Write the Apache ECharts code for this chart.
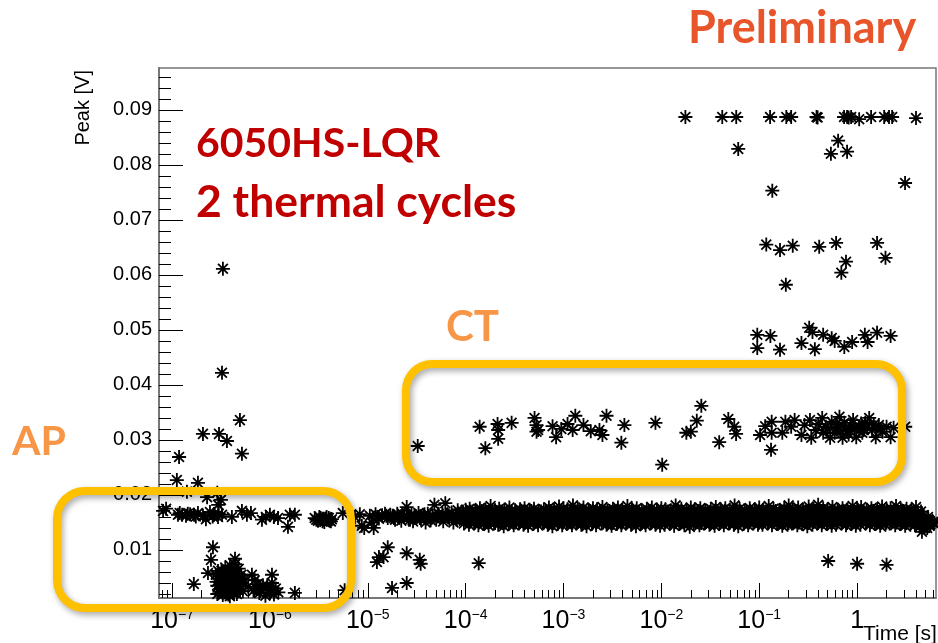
<!DOCTYPE html>
<html><head><meta charset="utf-8">
<script src="https://cdn.jsdelivr.net/npm/echarts@6/dist/echarts.min.js"></script>
<style>html,body{margin:0;padding:0;background:#fff}#c{width:938px;height:643px}</style>
</head><body><div id="c"></div>
<script>
// ---------- axis ranges & ticks ----------
const X_MIN = 7.36e-8, X_MAX = 6.4;
const Y_MIN = 0.00127, Y_MAX = 0.0976;
const xMajorTicks = [1e-7,1e-6,1e-5,1e-4,1e-3,1e-2,1e-1,1];
const xMinorTicks = [8e-8,9e-8,
 2e-7,3e-7,4e-7,5e-7,6e-7,7e-7,8e-7,9e-7,
 2e-6,3e-6,4e-6,5e-6,6e-6,7e-6,8e-6,9e-6,
 2e-5,3e-5,4e-5,5e-5,6e-5,7e-5,8e-5,9e-5,
 2e-4,3e-4,4e-4,5e-4,6e-4,7e-4,8e-4,9e-4,
 2e-3,3e-3,4e-3,5e-3,6e-3,7e-3,8e-3,9e-3,
 2e-2,3e-2,4e-2,5e-2,6e-2,7e-2,8e-2,9e-2,
 0.2,0.3,0.4,0.5,0.6,0.7,0.8,0.9,
 2,3,4,5,6];
const yMajorTicks = [0.01,0.02,0.03,0.04,0.05,0.06,0.07,0.08,0.09];
const yMinorTicks = [0.002,0.004,0.006,0.008,0.012,0.014,0.016,0.018,0.022,0.024,0.026,0.028,
 0.032,0.034,0.036,0.038,0.042,0.044,0.046,0.048,0.052,0.054,0.056,0.058,0.062,0.064,0.066,0.068,
 0.072,0.074,0.076,0.078,0.082,0.084,0.086,0.088,0.092,0.094,0.096];

// ---------- data: [time (s), peak (V)] ----------
const apUpper = [[1.18e-7,0.0269],[1.12e-7,0.0227],[1.84e-7,0.0222],[1.42e-7,0.0206],[2.28e-7,0.0196],[2.9e-7,0.0204],
 [3.16e-7,0.0191],[2.96e-7,0.0182],[2.07e-7,0.0311],[3.02e-7,0.0311],[3.64e-7,0.0298],[4.94e-7,0.0336],
 [3.31e-7,0.0611],[3.24e-7,0.0422],[5.18e-7,0.0275]];
const leftBand = [[8.1e-8,0.0171],[8.7e-8,0.0175],[1.15e-7,0.0164],[1.27e-7,0.0164],[1.39e-7,0.0162],[1.53e-7,0.0165],
 [1.68e-7,0.0164],[1.84e-7,0.0167],[2.07e-7,0.0162],[2.22e-7,0.0156],[2.44e-7,0.0169],[2.68e-7,0.0165],[2.95e-7,0.0160],
 [3.24e-7,0.0164],[4.09e-7,0.0160],[5.18e-7,0.0171],[5.82e-7,0.0164],[6.4e-7,0.0167],[8.3e-7,0.0155],[9.1e-7,0.0160],
 [1.0e-6,0.0164],[1.1e-6,0.0160],[1.21e-6,0.0158],[1.53e-6,0.0142],[1.6e-6,0.0164],[1.8e-6,0.0164],
 [2.87e-6,0.0158],[3.1e-6,0.0153],[3.3e-6,0.0158],[3.55e-6,0.0155],[3.8e-6,0.0160],[4.1e-6,0.0153],[4.3e-6,0.0156],
 [3.6e-6,0.0151],[5.56e-6,0.0167],[7.4e-6,0.0160],[8.7e-6,0.0144],[8.3e-6,0.0165],
 [1.2e-7,0.0167],[1.45e-7,0.0166],[1.75e-7,0.0161],[2.6e-7,0.0161],[3.0e-7,0.0166],[2.98e-6,0.0155],[3.2e-6,0.0160],
 [3.45e-6,0.0152],[3.7e-6,0.0157],[4.0e-6,0.0158],[4.2e-6,0.0152]];
const apLow = [[2.62e-7,0.0105],[2.5e-7,0.0082],[2.33e-7,0.0058],[1.67e-7,0.0038],[4.4e-7,0.0084],
 [2.8e-7,0.0055],[2.9e-7,0.0035],[2.9e-7,0.0020],[3.0e-7,0.0048],[3.1e-7,0.0028],[3.2e-7,0.0062],[3.2e-7,0.0040],
 [3.3e-7,0.0018],[3.4e-7,0.0052],[3.4e-7,0.0030],[3.5e-7,0.0068],[3.6e-7,0.0044],[3.6e-7,0.0022],[3.7e-7,0.0058],
 [3.8e-7,0.0034],[3.9e-7,0.0072],[3.9e-7,0.0016],[4.0e-7,0.0050],[4.1e-7,0.0026],[4.2e-7,0.0064],[4.2e-7,0.0040],
 [4.4e-7,0.0074],[4.4e-7,0.0031],[4.5e-7,0.0054],[4.6e-7,0.0020],[4.7e-7,0.0045],[4.8e-7,0.0066],[5.0e-7,0.0036],
 [5.1e-7,0.0055],[5.3e-7,0.0025],[5.5e-7,0.0046],[6.55e-7,0.0055],[7.0e-7,0.0045],[1.05e-6,0.0055],
 [7.2e-7,0.0030],[7.8e-7,0.0022],[8.5e-7,0.0036],[9.0e-7,0.0017],[9.8e-7,0.0027],[1.05e-6,0.0040],[1.1e-6,0.0019],
 [1.15e-6,0.0030],[1.22e-6,0.0023],[1.8e-6,0.0022],[5.8e-6,0.0027],
 [2.85e-7,0.0042],[2.95e-7,0.0062],[3.05e-7,0.0024],[3.15e-7,0.0052],[3.25e-7,0.0033],[3.35e-7,0.0060],[3.45e-7,0.0041],
 [3.55e-7,0.0026],[3.65e-7,0.0050],[3.75e-7,0.0019],[3.85e-7,0.0063],[3.95e-7,0.0042],[4.05e-7,0.0032],[4.15e-7,0.0058],
 [4.3e-7,0.0022],[4.4e-7,0.0048],[4.55e-7,0.0036],[4.75e-7,0.0028],[4.9e-7,0.0052],[5.2e-7,0.0040],[6.0e-7,0.0033],
 [6.8e-7,0.0026],[7.5e-7,0.0038],[8.2e-7,0.0028],[9.4e-7,0.0035],[1.0e-6,0.0022]];
const midLow = [[1.24e-5,0.0078],[1.3e-5,0.0087],[1.45e-5,0.0087],[1.6e-5,0.0105],[2.5e-5,0.0094],[3.4e-5,0.0082],
 [3.47e-5,0.0075],[1.77e-5,0.0031],[2.5e-5,0.0040],[1.36e-4,0.0076]];
const midBand = [[9.2e-6,0.0140],[1.05e-5,0.0162],[1.1e-5,0.0150],[1.15e-5,0.0140],[1.2e-5,0.0165],[1.3e-5,0.0157],[1.4e-5,0.0163],
 [1.5e-5,0.0166],[1.6e-5,0.0158],[1.7e-5,0.0164],[1.8e-5,0.0161],[1.9e-5,0.0155],[2.0e-5,0.0166],[2.1e-5,0.0160],
 [2.2e-5,0.0153],[2.35e-5,0.0163],[2.5e-5,0.0178],[2.6e-5,0.0158],[2.8e-5,0.0165],[2.9e-5,0.0152],[3.1e-5,0.0161],
 [3.3e-5,0.0167],[3.5e-5,0.0156],[3.7e-5,0.0162],[3.9e-5,0.0150],[4.1e-5,0.0166],[4.3e-5,0.0159],[4.6e-5,0.0163],
 [4.8e-5,0.0182],[5.0e-5,0.0155],[5.3e-5,0.0166],[5.6e-5,0.0160],[5.9e-5,0.0152],[6.2e-5,0.0185],[6.4e-5,0.0164],
 [6.8e-5,0.0157],[7.2e-5,0.0168],[7.5e-5,0.0150],[7.9e-5,0.0162],[8.3e-5,0.0172],[8.7e-5,0.0156],[9.2e-5,0.0166],[9.6e-5,0.0148],
 [1.25e-5,0.0160],[1.55e-5,0.0162],[1.85e-5,0.0158],[2.25e-5,0.0166],[2.7e-5,0.0155],[3.0e-5,0.0163],[3.4e-5,0.0158],
 [3.8e-5,0.0165],[4.4e-5,0.0154],[5.1e-5,0.0161],[5.8e-5,0.0166],[6.6e-5,0.0160],[7.4e-5,0.0163],[8.1e-5,0.0155],
 [8.9e-5,0.0160],[9.4e-5,0.0170]];
const bandA = [[1.0e-4,.0173],[1.1e-4,.0175],[1.25e-4,.0171],[1.4e-4,.0176],[1.6e-4,.0174],[1.8e-4,.0180],[2.0e-4,.0172],[2.2e-4,.0175],[2.5e-4,.0173],[2.8e-4,.0177],[3.2e-4,.0172],[3.6e-4,.0174],[4.0e-4,.0176],[4.5e-4,.0173],[5.0e-4,.0175],[5.6e-4,.0171],[6.3e-4,.0174],[7.1e-4,.0177],[8.0e-4,.0173],[9.0e-4,.0179],
 [1.0e-3,.0176],[1.1e-3,.0174],[1.25e-3,.0181],[1.4e-3,.0175],[1.6e-3,.0177],[1.8e-3,.0173],[2.0e-3,.0176],[2.2e-3,.0174],[2.5e-3,.0178],[2.8e-3,.0172],[3.2e-3,.0175],[3.6e-3,.0177],[4.0e-3,.0173],[4.5e-3,.0180],[5.0e-3,.0174],[5.6e-3,.0176],[6.3e-3,.0172],[7.1e-3,.0175],[8.0e-3,.0177],[9.0e-3,.0173],
 [1.0e-2,.0176],[1.1e-2,.0174],[1.25e-2,.0172],[1.4e-2,.0181],[1.6e-2,.0175],[1.8e-2,.0173],[2.0e-2,.0177],[2.2e-2,.0174],[2.5e-2,.0176],[2.8e-2,.0172],[3.2e-2,.0175],[3.6e-2,.0178],[4.0e-2,.0174],[4.5e-2,.0176],[5.0e-2,.0173],[5.6e-2,.0181],[6.3e-2,.0175],[7.1e-2,.0172],[8.0e-2,.0176],[9.0e-2,.0174],
 [.10,.0177],[.11,.0173],[.125,.0180],[.14,.0175],[.16,.0172],[.18,.0176],[.20,.0181],[.22,.0174],[.25,.0177],[.28,.0173],[.32,.0179],[.36,.0175],[.40,.0182],[.45,.0176],[.50,.0174],[.56,.0178],[.63,.0173],[.71,.0176],[.80,.0174],[.90,.0180],
 [1.0,.0175],[1.1,.0178],[1.25,.0173],[1.4,.0176],[1.6,.0174],[1.8,.0179],[2.0,.0173],[2.2,.0176],[2.5,.0180],[2.8,.0174],[3.2,.0175],[3.6,.0172],[4.0,.0178],[4.5,.0170]];
const bandB = [[1.05e-4,.0165],[1.2e-4,.0163],[1.3e-4,.0166],[1.5e-4,.0164],[1.7e-4,.0162],[1.9e-4,.0166],[2.1e-4,.0164],[2.4e-4,.0167],[2.7e-4,.0163],[3.0e-4,.0165],[3.4e-4,.0162],[3.8e-4,.0166],[4.2e-4,.0164],[4.8e-4,.0163],[5.3e-4,.0166],[6.0e-4,.0164],[6.7e-4,.0162],[7.5e-4,.0165],[8.5e-4,.0167],[9.5e-4,.0164],
 [1.05e-3,.0166],[1.2e-3,.0163],[1.3e-3,.0165],[1.5e-3,.0167],[1.7e-3,.0164],[1.9e-3,.0162],[2.1e-3,.0166],[2.4e-3,.0164],[2.7e-3,.0167],[3.0e-3,.0163],[3.4e-3,.0165],[3.8e-3,.0166],[4.2e-3,.0163],[4.8e-3,.0165],[5.3e-3,.0167],[6.0e-3,.0164],[6.7e-3,.0162],[7.5e-3,.0166],[8.5e-3,.0164],[9.5e-3,.0165],
 [1.05e-2,.0163],[1.2e-2,.0166],[1.3e-2,.0164],[1.5e-2,.0162],[1.7e-2,.0166],[1.9e-2,.0165],[2.1e-2,.0163],[2.4e-2,.0167],[2.7e-2,.0164],[3.0e-2,.0166],[3.4e-2,.0162],[3.8e-2,.0165],[4.2e-2,.0167],[4.8e-2,.0163],[5.3e-2,.0165],[6.0e-2,.0166],[6.7e-2,.0164],[7.5e-2,.0162],[8.5e-2,.0166],[9.5e-2,.0164],
 [.105,.0165],[.12,.0167],[.13,.0163],[.15,.0166],[.17,.0164],[.19,.0162],[.21,.0166],[.24,.0165],[.27,.0163],[.30,.0167],[.34,.0164],[.38,.0166],[.42,.0163],[.48,.0165],[.53,.0167],[.60,.0164],[.67,.0166],[.75,.0163],[.85,.0165],[.95,.0167],
 [1.05,.0164],[1.2,.0166],[1.3,.0163],[1.5,.0165],[1.7,.0167],[1.9,.0164],[2.1,.0166],[2.4,.0163],[2.7,.0165],[3.0,.0162],[3.4,.0166],[3.8,.0164],[4.2,.0161],[4.8,.0163],[5.3,.0160]];
const bandC = [[1.02e-4,.0155],[1.15e-4,.0157],[1.28e-4,.0154],[1.45e-4,.0156],[1.62e-4,.0153],[1.85e-4,.0157],[2.05e-4,.0155],[2.3e-4,.0154],[2.6e-4,.0157],[2.9e-4,.0155],[3.3e-4,.0153],[3.7e-4,.0156],[4.1e-4,.0154],[4.6e-4,.0157],[5.2e-4,.0155],[5.8e-4,.0153],[6.5e-4,.0156],[7.3e-4,.0154],[8.2e-4,.0157],[9.2e-4,.0155],
 [1.02e-3,.0156],[1.15e-3,.0154],[1.28e-3,.0157],[1.45e-3,.0155],[1.62e-3,.0153],[1.85e-3,.0156],[2.05e-3,.0158],[2.3e-3,.0154],[2.6e-3,.0156],[2.9e-3,.0153],[3.3e-3,.0157],[3.7e-3,.0155],[4.1e-3,.0154],[4.6e-3,.0156],[5.2e-3,.0153],[5.8e-3,.0157],[6.5e-3,.0155],[7.3e-3,.0154],[8.2e-3,.0156],[9.2e-3,.0158],
 [1.02e-2,.0154],[1.15e-2,.0156],[1.28e-2,.0153],[1.45e-2,.0157],[1.62e-2,.0155],[1.85e-2,.0154],[2.05e-2,.0156],[2.3e-2,.0158],[2.6e-2,.0155],[2.9e-2,.0153],[3.3e-2,.0156],[3.7e-2,.0154],[4.1e-2,.0157],[4.6e-2,.0155],[5.2e-2,.0153],[5.8e-2,.0156],[6.5e-2,.0154],[7.3e-2,.0157],[8.2e-2,.0155],[9.2e-2,.0153],
 [.102,.0156],[.115,.0154],[.128,.0157],[.145,.0155],[.162,.0153],[.185,.0156],[.205,.0154],[.23,.0157],[.26,.0155],[.29,.0153],[.33,.0156],[.37,.0158],[.41,.0154],[.46,.0156],[.52,.0153],[.58,.0155],[.65,.0157],[.73,.0154],[.82,.0156],[.92,.0155],
 [1.02,.0154],[1.15,.0156],[1.28,.0153],[1.45,.0157],[1.62,.0155],[1.85,.0154],[2.05,.0156],[2.3,.0153],[2.6,.0155],[2.9,.0157],[3.3,.0154],[3.7,.0156],[4.1,.0153],[4.6,.0155],[5.2,.0152],[5.8,.0150]];
const bandD = [[1.08e-4,.0146],[1.22e-4,.0148],[1.35e-4,.0145],[1.52e-4,.0147],[1.72e-4,.0144],[1.95e-4,.0148],[2.15e-4,.0146],[2.45e-4,.0143],[2.75e-4,.0147],[3.1e-4,.0145],[3.5e-4,.0148],[3.9e-4,.0146],[4.35e-4,.0144],[4.9e-4,.0147],[5.5e-4,.0145],[6.1e-4,.0148],[6.9e-4,.0146],[7.7e-4,.0143],[8.7e-4,.0147],[9.7e-4,.0145],
 [1.08e-3,.0147],[1.22e-3,.0145],[1.35e-3,.0148],[1.52e-3,.0146],[1.72e-3,.0143],[1.95e-3,.0147],[2.15e-3,.0145],[2.45e-3,.0148],[2.75e-3,.0146],[3.1e-3,.0144],[3.5e-3,.0147],[3.9e-3,.0145],[4.35e-3,.0148],[4.9e-3,.0146],[5.5e-3,.0143],[6.1e-3,.0147],[6.9e-3,.0145],[7.7e-3,.0148],[8.7e-3,.0146],[9.7e-3,.0144],
 [1.08e-2,.0146],[1.22e-2,.0148],[1.35e-2,.0144],[1.52e-2,.0147],[1.72e-2,.0145],[1.95e-2,.0142],[2.15e-2,.0147],[2.45e-2,.0145],[2.75e-2,.0148],[3.1e-2,.0146],[3.5e-2,.0144],[3.9e-2,.0147],[4.35e-2,.0145],[4.9e-2,.0148],[5.5e-2,.0146],[6.1e-2,.0143],[6.9e-2,.0147],[7.7e-2,.0145],[8.7e-2,.0148],[9.7e-2,.0146],
 [.108,.0146],[.122,.0148],[.135,.0145],[.152,.0147],[.172,.0144],[.195,.0146],[.215,.0148],[.245,.0145],[.275,.0147],[.31,.0143],[.35,.0146],[.39,.0148],[.435,.0145],[.49,.0147],[.55,.0144],[.61,.0146],[.69,.0148],[.77,.0145],[.87,.0147],[.97,.0144],
 [1.08,.0146],[1.22,.0148],[1.35,.0145],[1.52,.0147],[1.72,.0144],[1.95,.0146],[2.15,.0148],[2.45,.0145],[2.75,.0147],[3.1,.0144],[3.5,.0146],[3.9,.0145],[4.35,.0142],[4.9,.0140],[5.5,.0144],[6.1,.0148]];
const bandE = [[1.03e-4,.0169],[1.17e-4,.0170],[1.32e-4,.0168],[1.48e-4,.0170],[1.66e-4,.0169],[1.88e-4,.0171],[2.08e-4,.0168],[2.35e-4,.0170],[2.65e-4,.0169],[2.95e-4,.0171],[3.35e-4,.0168],[3.75e-4,.0170],[4.2e-4,.0169],[4.7e-4,.0171],[5.25e-4,.0168],[5.9e-4,.0170],[6.6e-4,.0169],[7.4e-4,.0171],[8.3e-4,.0168],[9.3e-4,.0170],
 [1.03e-3,.0169],[1.17e-3,.0171],[1.32e-3,.0168],[1.48e-3,.0170],[1.66e-3,.0169],[1.88e-3,.0171],[2.08e-3,.0169],[2.35e-3,.0170],[2.65e-3,.0168],[2.95e-3,.0171],[3.35e-3,.0169],[3.75e-3,.0170],[4.2e-3,.0168],[4.7e-3,.0171],[5.25e-3,.0169],[5.9e-3,.0170],[6.6e-3,.0168],[7.4e-3,.0171],[8.3e-3,.0169],[9.3e-3,.0170],
 [1.03e-2,.0169],[1.17e-2,.0170],[1.32e-2,.0168],[1.48e-2,.0171],[1.66e-2,.0169],[1.88e-2,.0170],[2.08e-2,.0168],[2.35e-2,.0171],[2.65e-2,.0169],[2.95e-2,.0170],[3.35e-2,.0168],[3.75e-2,.0171],[4.2e-2,.0169],[4.7e-2,.0170],[5.25e-2,.0168],[5.9e-2,.0171],[6.6e-2,.0169],[7.4e-2,.0170],[8.3e-2,.0168],[9.3e-2,.0171],
 [.103,.0169],[.117,.0170],[.132,.0168],[.148,.0171],[.166,.0169],[.188,.0170],[.208,.0168],[.235,.0171],[.265,.0169],[.295,.0170],[.335,.0168],[.375,.0171],[.42,.0169],[.47,.0170],[.525,.0168],[.59,.0171],[.66,.0169],[.74,.0170],[.83,.0168],[.93,.0171],
 [1.03,.0169],[1.17,.0170],[1.32,.0168],[1.48,.0171],[1.66,.0169],[1.88,.0170],[2.08,.0168],[2.35,.0170],[2.65,.0169],[2.95,.0171],[3.35,.0168],[3.75,.0170],[4.2,.0167]];
const bandF = [[1.1e-4,.0151],[1.24e-4,.0150],[1.4e-4,.0152],[1.57e-4,.0150],[1.76e-4,.0151],[2.0e-4,.0149],[2.25e-4,.0151],[2.55e-4,.0150],[2.85e-4,.0152],[3.2e-4,.0150],[3.6e-4,.0151],[4.0e-4,.0149],[4.45e-4,.0151],[5.0e-4,.0150],[5.6e-4,.0152],[6.3e-4,.0150],[7.0e-4,.0151],[7.9e-4,.0149],[8.9e-4,.0151],[9.9e-4,.0150],
 [1.1e-3,.0152],[1.24e-3,.0150],[1.4e-3,.0151],[1.57e-3,.0149],[1.76e-3,.0151],[2.0e-3,.0150],[2.25e-3,.0152],[2.55e-3,.0150],[2.85e-3,.0151],[3.2e-3,.0149],[3.6e-3,.0151],[4.0e-3,.0150],[4.45e-3,.0152],[5.0e-3,.0150],[5.6e-3,.0151],[6.3e-3,.0149],[7.0e-3,.0151],[7.9e-3,.0150],[8.9e-3,.0152],[9.9e-3,.0150],
 [1.1e-2,.0151],[1.24e-2,.0149],[1.4e-2,.0151],[1.57e-2,.0150],[1.76e-2,.0152],[2.0e-2,.0150],[2.25e-2,.0151],[2.55e-2,.0149],[2.85e-2,.0151],[3.2e-2,.0150],[3.6e-2,.0152],[4.0e-2,.0150],[4.45e-2,.0151],[5.0e-2,.0149],[5.6e-2,.0151],[6.3e-2,.0150],[7.0e-2,.0152],[7.9e-2,.0150],[8.9e-2,.0151],[9.9e-2,.0149],
 [.11,.0151],[.124,.0150],[.14,.0152],[.157,.0150],[.176,.0151],[.20,.0149],[.225,.0151],[.255,.0150],[.285,.0152],[.32,.0150],[.36,.0151],[.40,.0149],[.445,.0151],[.50,.0150],[.56,.0152],[.63,.0150],[.70,.0151],[.79,.0149],[.89,.0151],[.99,.0150],
 [1.1,.0152],[1.24,.0150],[1.4,.0151],[1.57,.0149],[1.76,.0151],[2.0,.0150],[2.25,.0152],[2.55,.0150],[2.85,.0151],[3.2,.0149],[3.6,.0151],[4.0,.0150],[4.45,.0148],[5.0,.0146]];
const bandG = [[1.06e-4,.0160],[1.19e-4,.0159],[1.34e-4,.0161],[1.5e-4,.0160],[1.69e-4,.0159],[1.9e-4,.0161],[2.12e-4,.0160],[2.38e-4,.0159],[2.68e-4,.0161],[3.0e-4,.0160],[3.38e-4,.0159],[3.8e-4,.0161],[4.25e-4,.0160],[4.78e-4,.0159],[5.35e-4,.0161],[6.0e-4,.0160],[6.75e-4,.0159],[7.6e-4,.0161],[8.5e-4,.0160],[9.55e-4,.0159],
 [1.06e-3,.0161],[1.19e-3,.0160],[1.34e-3,.0159],[1.5e-3,.0161],[1.69e-3,.0160],[1.9e-3,.0159],[2.12e-3,.0161],[2.38e-3,.0160],[2.68e-3,.0159],[3.0e-3,.0161],[3.38e-3,.0160],[3.8e-3,.0159],[4.25e-3,.0161],[4.78e-3,.0160],[5.35e-3,.0159],[6.0e-3,.0161],[6.75e-3,.0160],[7.6e-3,.0159],[8.5e-3,.0161],[9.55e-3,.0160],
 [1.06e-2,.0159],[1.19e-2,.0161],[1.34e-2,.0160],[1.5e-2,.0159],[1.69e-2,.0161],[1.9e-2,.0160],[2.12e-2,.0159],[2.38e-2,.0161],[2.68e-2,.0160],[3.0e-2,.0159],[3.38e-2,.0161],[3.8e-2,.0160],[4.25e-2,.0159],[4.78e-2,.0161],[5.35e-2,.0160],[6.0e-2,.0159],[6.75e-2,.0161],[7.6e-2,.0160],[8.5e-2,.0159],[9.55e-2,.0161],
 [.106,.0160],[.119,.0159],[.134,.0161],[.15,.0160],[.169,.0159],[.19,.0161],[.212,.0160],[.238,.0159],[.268,.0161],[.30,.0160],[.338,.0159],[.38,.0161],[.425,.0160],[.478,.0159],[.535,.0161],[.60,.0160],[.675,.0159],[.76,.0161],[.85,.0160],[.955,.0159],
 [1.06,.0161],[1.19,.0160],[1.34,.0159],[1.5,.0161],[1.69,.0160],[1.9,.0159],[2.12,.0161],[2.38,.0160],[2.68,.0159],[3.0,.0161],[3.38,.0160],[3.8,.0158],[4.25,.0157],[4.78,.0155],[5.35,.0156]];
const bandEnd = [[4.6,0.0133],[5.2,0.0140],[5.6,0.0147],[6.0,0.0151]];
const ctPoints = [[3.24e-5,0.0289],[1.39e-4,0.0324],[1.59e-4,0.0285],[2.12e-4,0.0329],[2.15e-4,0.0318],[2.15e-4,0.0302],
 [2.95e-4,0.0331],[5.06e-4,0.0340],[5.3e-4,0.0327],[5.5e-4,0.0318],[5.3e-4,0.0315],[7.73e-4,0.0325],[8.4e-4,0.0305],
 [9.5e-4,0.0320],[1.1e-3,0.0329],[1.24e-3,0.0318],[1.32e-3,0.0344],[1.6e-3,0.0327],[1.9e-3,0.0316],[2.33e-3,0.0318],
 [2.5e-3,0.0309],[2.75e-3,0.0344],[3.9e-3,0.0295],[4.19e-3,0.0327],[8.7e-3,0.0331],[1.02e-2,0.0255],[1.8e-2,0.0313],
 [2.0e-2,0.0315],[2.3e-2,0.0335],[2.56e-2,0.0362],[3.9e-2,0.0296],[4.83e-2,0.0338],[5.56e-2,0.0324],[5.8e-2,0.0311],
 [0.102,0.0309],[0.115,0.0325],[0.132,0.0282],[0.134,0.0333],[0.134,0.0313]];
const ctDense = [[0.172,0.0313],[0.185,0.0333],[0.212,0.0324],[0.23,0.0336],[0.27,0.0309],[0.29,0.0327],[0.33,0.0336],
 [0.34,0.0304],[0.38,0.0318],[0.44,0.0340],[0.45,0.0313],[0.48,0.0324],[0.53,0.0304],[0.55,0.0333],[0.59,0.0313],
 [0.63,0.0324],[0.66,0.0342],[0.71,0.0304],[0.74,0.0331],[0.79,0.0315],[0.85,0.0327],[0.91,0.0336],[0.98,0.0305],
 [1.05,0.0324],[1.13,0.0313],[1.21,0.0331],[1.33,0.0340],[1.42,0.0318],[1.55,0.0305],[1.67,0.0327],[1.82,0.0315],
 [2.0,0.0324],[2.2,0.0305],[2.36,0.0322],[3.1,0.0324],[0.5,0.0320],[0.61,0.0328],[0.76,0.0319],[0.82,0.0310],
 [0.94,0.0322],[1.1,0.0330],[1.27,0.0322],[1.48,0.0328],[0.4,0.0329],[0.68,0.0316],[1.17,0.0318],[1.75,0.0320]];
const upperPoints = [[1.76e-2,0.0887],[4.19e-2,0.0887],[5.82e-2,0.0887],[0.129,0.0887],[0.189,0.0887],[0.212,0.0887],
 [0.385,0.0887],[0.395,0.0886],[0.736,0.0887],[0.791,0.0887],[0.82,0.0886],[0.869,0.0887],[1.05,0.0883],[1.39,0.0887],
 [1.89,0.0887],[2.12,0.0887],[2.28,0.0887],[4.0,0.0885],
 [6.1e-2,0.0829],[0.64,0.0844],[0.54,0.0820],[0.79,0.0824],[0.136,0.0753],[3.09,0.0767],
 [0.118,0.0655],[0.163,0.0645],[0.22,0.0653],[0.41,0.0651],[0.61,0.0658],[0.77,0.0624],[0.69,0.0604],[1.6,0.0658],
 [1.95,0.0631],[0.187,0.0582],
 [0.0955,0.0491],[0.0955,0.0467],[0.13,0.0489],[0.163,0.0464],[0.27,0.0476],[0.324,0.0504],[0.35,0.0496],
 [0.37,0.0465],[0.45,0.0491],[0.55,0.0485],[0.59,0.0480],[0.74,0.0469],[0.89,0.0478],[1.2,0.0491],[1.28,0.0478],
 [1.6,0.0495],[2.2,0.0489]];
const lowRight = [[0.506,0.0080],[1.0,0.0075],[2.0,0.0073]];

// ---------- chart ----------
const STAR = 'path://M0 8.7H20V11.3H0Z M8.7 0H11.3V20H8.7Z M2.1 3.9L3.9 2.1L17.9 16.1L16.1 17.9Z M16.1 2.1L17.9 3.9L3.9 17.9L2.1 16.1Z';
function pts(name, data) {
  return {name: name, type: 'scatter', data: data, symbol: STAR, symbolSize: 14, z: 2,
    itemStyle: {color: '#000', opacity: 1}};
}
const FONT = '"Liberation Sans", Arial, sans-serif';
const TICK = {color: '#000', width: 1};
const FRAME = {show: true, lineStyle: {color: '#767676', width: 1.5}};
const chart = echarts.init(document.getElementById('c'));
chart.setOption({
  animation: false,
  grid: {left: 159, top: 68, right: 2, bottom: 45, show: true, borderColor: '#767676', borderWidth: 1.5},
  xAxis: [
    {type: 'log', logBase: 10, min: X_MIN, max: X_MAX, position: 'bottom',
      axisLine: FRAME, splitLine: {show: false},
      axisTick: {show: true, inside: true, length: 15, lineStyle: TICK, customValues: xMajorTicks},
      axisLabel: {margin: 10, color: '#000', fontFamily: FONT,
        customValues: xMajorTicks,
        formatter: function (v) {
          const e = Math.round(Math.log10(v));
          if (e === 0) return '{b|1}';
          return '{b|10}{s|\u2212' + (-e) + '}';
        },
        rich: {b: {fontSize: 25, lineHeight: 26, fontFamily: FONT, color: '#000'},
               s: {fontSize: 14, lineHeight: 14, verticalAlign: 'top', fontFamily: FONT, color: '#000'}}}},
    {type: 'log', logBase: 10, min: X_MIN, max: X_MAX, position: 'bottom', offset: 0,
      axisLine: FRAME, splitLine: {show: false}, axisLabel: {show: false},
      axisTick: {show: true, inside: true, length: 8, lineStyle: TICK, customValues: xMinorTicks}}
  ],
  yAxis: [
    {type: 'value', min: Y_MIN, max: Y_MAX, splitNumber: 10, position: 'left',
      axisLine: FRAME, splitLine: {show: false},
      axisTick: {show: true, inside: true, length: 24, lineStyle: TICK, customValues: yMajorTicks},
      axisLabel: {fontSize: 20, margin: 7, color: '#000', fontFamily: FONT,
        customValues: yMajorTicks,
        formatter: function (v) { return (Math.round(v * 100) / 100).toFixed(2); }}},
    {type: 'value', min: Y_MIN, max: Y_MAX, position: 'left', offset: 0,
      axisLine: FRAME, splitLine: {show: false}, axisLabel: {show: false},
      axisTick: {show: true, inside: true, length: 12, lineStyle: TICK, customValues: yMinorTicks}}
  ],
  series: [
    pts('apUpper', apUpper), pts('leftBand', leftBand), pts('apLow', apLow), pts('midLow', midLow),
    pts('midBand', midBand), pts('bandA', bandA), pts('bandE', bandE), pts('bandB', bandB), pts('bandG', bandG),
    pts('bandC', bandC), pts('bandF', bandF), pts('bandD', bandD),
    pts('bandEnd', bandEnd), pts('ctPoints', ctPoints), pts('ctDense', ctDense), pts('upperPoints', upperPoints),
    pts('lowRight', lowRight)
  ],
  graphic: [
    {type: 'text', x: 83, y: 70, rotation: Math.PI / 2, z: 50,
      style: {text: 'Peak [V]', font: '20px ' + FONT, fill: '#000', align: 'right', verticalAlign: 'middle'}},
    {type: 'text', x: 863, y: 634, z: 50,
      style: {text: 'Time [s]', font: '21px ' + FONT, fill: '#000', align: 'left', verticalAlign: 'middle'}},
    {type: 'text', x: 688, y: 28, z: 50,
      style: {text: 'Preliminary', font: 'bold 45px Lato', fill: '#E8552A', align: 'left', verticalAlign: 'middle'}},
    {type: 'text', x: 196, y: 144, z: 50,
      style: {text: '6050HS-LQR', font: 'bold 41px Lato', fill: '#C00000', align: 'left', verticalAlign: 'middle'}},
    {type: 'text', x: 196, y: 203, z: 50,
      style: {text: '2 thermal cycles', font: 'bold 44.5px Lato', fill: '#C00000', align: 'left', verticalAlign: 'middle'}},
    {type: 'text', x: 446, y: 327, z: 50,
      style: {text: 'CT', font: 'bold 42px Lato', fill: '#F79646', align: 'left', verticalAlign: 'middle'}},
    {type: 'text', x: 12, y: 442, z: 50,
      style: {text: 'AP', font: 'bold 41px Lato', fill: '#F79646', align: 'left', verticalAlign: 'middle'}},
    {type: 'rect', z: 60, shape: {x: 406, y: 364, width: 496, height: 118, r: 26},
      style: {fill: 'none', stroke: '#FFC000', lineWidth: 8, shadowBlur: 6, shadowColor: 'rgba(0,0,0,0.35)', shadowOffsetX: 2, shadowOffsetY: 3}},
    {type: 'rect', z: 60, shape: {x: 57, y: 491, width: 294, height: 117, r: 28},
      style: {fill: 'none', stroke: '#FFC000', lineWidth: 8, shadowBlur: 6, shadowColor: 'rgba(0,0,0,0.35)', shadowOffsetX: 2, shadowOffsetY: 3}}
  ]
});
</script></body></html>
